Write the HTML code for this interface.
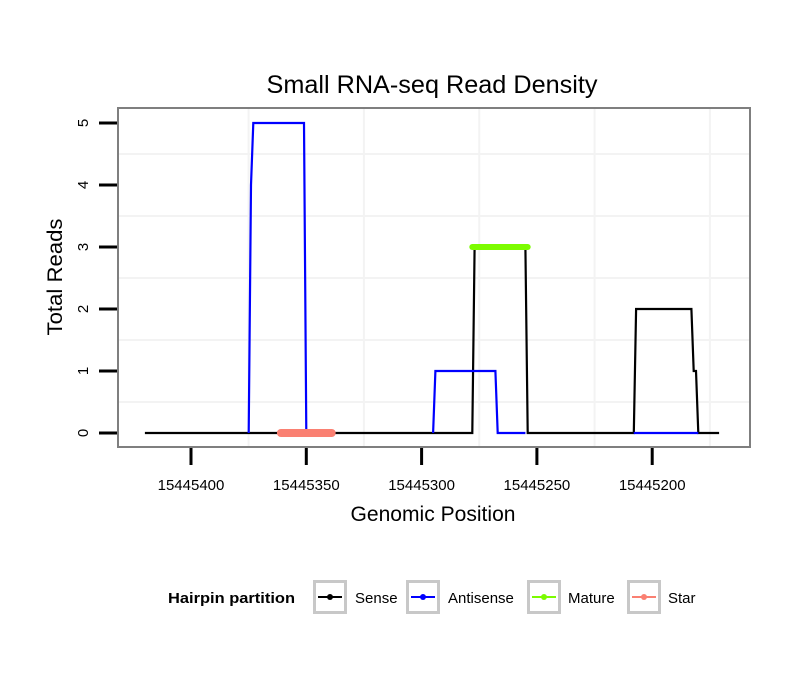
<!DOCTYPE html>
<html><head><meta charset="utf-8"><style>
body{margin:0;background:#fff;}
svg{display:block;font-family:"Liberation Sans",sans-serif;}
</style></head><body>
<svg width="810" height="690" viewBox="0 0 810 690" xmlns="http://www.w3.org/2000/svg">
<rect width="810" height="690" fill="#fff"/>
<text x="432" y="93" font-size="25" text-anchor="middle" textLength="331" lengthAdjust="spacingAndGlyphs">Small RNA-seq Read Density</text>
<g id="grid"></g>
<g id="series"></g>
<rect x="118" y="108" width="632" height="339" fill="none" stroke="#7f7f7f" stroke-width="2"/>
<g id="axes"></g>
<text x="433" y="521" font-size="21" text-anchor="middle" textLength="165" lengthAdjust="spacingAndGlyphs">Genomic Position</text>
<text transform="translate(62,277) rotate(-90)" font-size="21" text-anchor="middle" textLength="117" lengthAdjust="spacingAndGlyphs">Total Reads</text>
<g>
<text x="168" y="603" font-size="15" font-weight="bold" textLength="127" lengthAdjust="spacingAndGlyphs">Hairpin partition</text>
<g>
<rect x="314.5" y="581.5" width="31" height="31" fill="#fff" stroke="#c8c8c8" stroke-width="3"/>
<line x1="318" y1="597" x2="342" y2="597" stroke="#000" stroke-width="2"/><circle cx="330" cy="597" r="3" fill="#000"/>
<text x="355" y="603" font-size="15">Sense</text></g>
<g>
<rect x="407.5" y="581.5" width="31" height="31" fill="#fff" stroke="#c8c8c8" stroke-width="3"/>
<line x1="411" y1="597" x2="435" y2="597" stroke="#00f" stroke-width="2"/><circle cx="423" cy="597" r="3" fill="#00f"/>
<text x="448" y="603" font-size="15">Antisense</text></g>
<g>
<rect x="528.5" y="581.5" width="31" height="31" fill="#fff" stroke="#c8c8c8" stroke-width="3"/>
<line x1="532" y1="597" x2="556" y2="597" stroke="#7cfc00" stroke-width="2"/><circle cx="544" cy="597" r="3" fill="#7cfc00"/>
<text x="568" y="603" font-size="15">Mature</text></g>
<g>
<rect x="628.5" y="581.5" width="31" height="31" fill="#fff" stroke="#c8c8c8" stroke-width="3"/>
<line x1="632" y1="597" x2="656" y2="597" stroke="#fa8072" stroke-width="2"/><circle cx="644" cy="597" r="3" fill="#fa8072"/>
<text x="668" y="603" font-size="15">Star</text></g>
</g>
</svg>
<script>
const xTicks = [15445400, 15445350, 15445300, 15445250, 15445200];
const yTicks = [0, 1, 2, 3, 4, 5];
const sensePos = [15445420, 15445278, 15445277, 15445255, 15445254, 15445208, 15445207, 15445183, 15445182, 15445181, 15445180, 15445171];
const senseVal = [0, 0, 3, 3, 0, 0, 2, 2, 1, 1, 0, 0];
const antiPos = [15445375, 15445374, 15445373, 15445351, 15445350, 15445300, 15445295, 15445294, 15445268, 15445267, 15445255, 15445230, 15445208, 15445180];
const antiVal = [0, 4, 5, 5, 0, null, 0, 1, 1, 0, 0, null, 0, 0];
const maturePos = [15445278, 15445254];
const matureVal = [3, 3];
const starPos = [15445361, 15445339];
const starVal = [0, 0];

const NS = "http://www.w3.org/2000/svg";
const X = p => 191 + (15445400 - p) * 115.3 / 50;
const Y = v => 433 - v * 62;
function mk(tag, attrs, parent){const e=document.createElementNS(NS,tag);for(const k in attrs)e.setAttribute(k,attrs[k]);parent.appendChild(e);return e;}
const grid=document.getElementById('grid'), series=document.getElementById('series'), axes=document.getElementById('axes');
for(let i=0;i<xTicks.length;i++){
  const p = xTicks[i]-25;
  const g = mk('line',{x1:X(p),x2:X(p),y1:109,y2:446,stroke:'#f3f3f3','stroke-width':2},grid);
  
  
}
for(let i=0;i<yTicks.length-1;i++){
  const v=yTicks[i]+0.5;
  const g = mk('line',{x1:119,x2:749,y1:Y(v),y2:Y(v),stroke:'#f3f3f3','stroke-width':2},grid);
  
  
}
function path(pos,val){let d='',pen=false;for(let i=0;i<pos.length;i++){if(val[i]===null){pen=false;continue;}d+=(pen?'L':'M')+X(pos[i]).toFixed(1)+','+Y(val[i]).toFixed(1);pen=true;}return d;}
const s1=mk('path',{d:path(sensePos,senseVal),fill:'none',stroke:'#000','stroke-width':2.2,'stroke-linejoin':'miter'},series);


const s2=mk('path',{d:path(antiPos,antiVal),fill:'none',stroke:'#00f','stroke-width':2.2},series);


const s3=mk('path',{d:path(maturePos,matureVal),fill:'none',stroke:'#7cfc00','stroke-width':6,'stroke-linecap':'round'},series);


const s4=mk('path',{d:path(starPos,starVal),fill:'none',stroke:'#fa8072','stroke-width':8,'stroke-linecap':'round'},series);


xTicks.forEach(t=>{
  const l=mk('line',{x1:X(t),x2:X(t),y1:448,y2:465,stroke:'#000','stroke-width':3},axes);
  
  
  const tx=mk('text',{x:X(t),y:490,'font-size':15,'text-anchor':'middle'},axes);
  tx.textContent=t;
  
  
});
yTicks.forEach(t=>{
  const l=mk('line',{x1:99,x2:117,y1:Y(t),y2:Y(t),stroke:'#000','stroke-width':3},axes);
  
  
  const tx=mk('text',{transform:`translate(88,${Y(t)}) rotate(-90)`,'font-size':15,'text-anchor':'middle'},axes);
  tx.textContent=t;
  
  
});
</script>
</body></html>
